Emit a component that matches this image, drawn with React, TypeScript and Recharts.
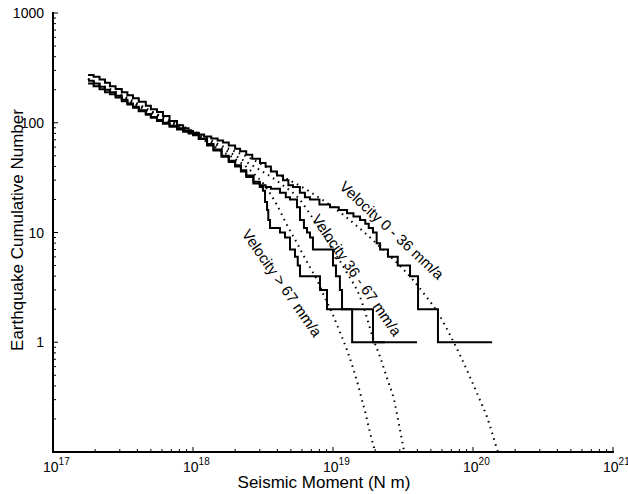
import React from 'react';
import { ComposedChart, Line, XAxis, YAxis, ReferenceDot } from 'recharts';

// observed cumulative counts (stairs), velocity 0 - 36 mm/a
const slowMoment = [
  1.78e17, 1.95e17, 2.15e17, 2.35e17, 2.55e17, 2.8e17, 3.1e17, 3.4e17, 3.73e17, 4.1e17,
  4.6e17, 5.0e17, 5.53e17, 6.1e17, 6.8e17, 7.69e17, 8.5e17, 9.3e17, 1.0e18, 1.1e18,
  1.2e18, 1.35e18, 1.5e18, 1.64e18, 1.8e18, 2.0e18, 2.17e18, 2.4e18, 2.65e18, 3.01e18,
  3.3e18, 3.6e18, 3.98e18, 4.4e18, 4.8e18, 5.18e18, 5.8e18, 6.3e18, 6.85e18, 8.0e18,
  9.52e18, 1.1e19, 1.26e19, 1.4e19, 1.56e19, 1.7e19, 1.8e19, 1.93e19, 2.05e19, 2.17e19,
  2.47e19, 2.9e19, 3.55e19, 4.05e19, 5.62e19, 1.37e20,
];
const slowCount = [
  272, 262, 248, 232, 215, 203, 190, 178, 167, 155,
  143, 133, 125, 115, 104, 95, 89, 84, 81, 78,
  75, 72, 69, 66, 62, 58, 55, 51, 47, 43,
  40, 36, 33, 30, 27, 26, 23, 21, 20, 18,
  17, 16, 15, 14, 13, 12, 11, 10, 8, 7,
  6, 5, 4, 2, 1, 1,
];

// velocity 36 - 67 mm/a
const midMoment = [
  1.78e17, 1.95e17, 2.15e17, 2.35e17, 2.55e17, 2.8e17, 3.1e17, 3.4e17, 3.73e17, 4.1e17,
  4.6e17, 5.0e17, 5.53e17, 6.1e17, 6.8e17, 7.69e17, 8.5e17, 9.3e17, 1.0e18, 1.1e18,
  1.26e18, 1.4e18, 1.6e18, 1.8e18, 2.0e18, 2.2e18, 2.4e18, 2.7e18, 3.0e18, 3.3e18,
  3.6e18, 4.18e18, 4.6e18, 4.93e18, 5.53e18, 5.81e18, 6.2e18, 6.52e18, 6.85e18, 7.19e18,
  1.0e19, 1.05e19, 1.12e19, 1.16e19, 1.93e19, 3.98e19,
];
const midCount = [
  242, 228, 213, 200, 190, 176, 162, 150, 140, 130,
  120, 113, 106, 100, 94, 89, 85, 82, 79, 72,
  64, 57, 50, 45, 41, 37, 33, 29, 27, 26,
  25, 23, 21, 20, 17, 13, 11, 10, 9, 7,
  5, 4, 3, 2, 1, 1,
];

// velocity > 67 mm/a
const fastMoment = [
  1.78e17, 1.95e17, 2.15e17, 2.35e17, 2.55e17, 2.8e17, 3.1e17, 3.4e17, 3.73e17, 4.1e17,
  4.6e17, 5.0e17, 5.53e17, 6.1e17, 6.8e17, 7.69e17, 8.5e17, 9.3e17, 1.0e18, 1.1e18,
  1.26e18, 1.4e18, 1.6e18, 1.8e18, 2.0e18, 2.2e18, 2.4e18, 2.7e18, 3.0e18, 3.16e18,
  3.27e18, 3.38e18, 3.45e18, 3.55e18, 4.18e18, 4.54e18, 4.93e18, 5.35e18, 5.6e18, 5.81e18,
  8.07e18, 9.06e18, 1.37e19, 2.35e19,
];
const fastCount = [
  228, 215, 202, 190, 182, 170, 157, 147, 137, 127,
  118, 111, 104, 98, 92, 87, 83, 80, 77, 71,
  62, 56, 49, 44, 40, 36, 32, 28, 26, 24,
  19, 16, 13, 11, 10, 9, 7, 6, 5, 4,
  3, 2, 1, 1,
];

// fitted curves (dotted)
const slowFitMoment = [
  1.78e17, 3.01e17, 5.53e17, 1.0e18, 1.56e18, 2.55e18, 4.18e18, 6.52e18, 9.52e18, 1.26e19,
  1.69e19, 2.17e19, 2.86e19, 3.73e19, 4.54e19, 5.62e19, 6.96e19, 8.07e19, 9.52e19, 1.12e20,
  1.26e20, 1.39e20, 1.51e20, 1.56e20,
];
const slowFitCount = [
  250, 183, 120, 84, 62.7, 47.7, 33.4, 24.4, 17.8, 13.6,
  9.9, 7.4, 5.3, 3.69, 2.7, 1.85, 1.12, 0.766, 0.482, 0.298,
  0.208, 0.14, 0.1, 0.0915,
];
const midFitMoment = [
  1.78e17, 5.53e17, 1.0e18, 1.56e18, 2.55e18, 4.18e18, 5.81e18, 7.44e18, 1.0e19, 1.26e19,
  1.56e19, 1.75e19, 1.93e19, 2.17e19, 2.43e19, 2.73e19, 3.01e19, 3.21e19, 3.32e19,
];
const midFitCount = [
  250, 118, 82, 60, 42, 28.2, 19.8, 12.5, 6.93, 4.28,
  2.58, 1.66, 1.09, 0.734, 0.472, 0.298, 0.159, 0.104, 0.0845,
];
const fastFitMoment = [
  1.78e17, 5.53e17, 1.0e18, 1.56e18, 2.55e18, 3.27e18, 3.98e18, 4.69e18, 5.53e18, 6.52e18,
  7.69e18, 8.77e18, 9.84e18, 1.12e19, 1.26e19, 1.39e19, 1.51e19, 1.61e19, 1.72e19, 1.84e19,
  2.0e19, 2.06e19,
];
const fastFitCount = [
  250, 115, 79, 56.5, 37.1, 26.5, 17.8, 11.7, 8.02, 5.38,
  3.69, 2.53, 1.85, 1.24, 0.846, 0.582, 0.408, 0.298, 0.217, 0.149,
  0.1, 0.0845,
];

const curveLabels = ['Velocity 0 - 36 mm/a', 'Velocity 36 - 67 mm/a', 'Velocity > 67 mm/a'];
const labelMoment = [2.64e19, 1.48e19, 4.33e18];
const labelCount = [10.5, 4.1, 3.47];
const labelAngle = [43, 55, 55];

const xExponents = ['17', '18', '19', '20', '21'];
const yTickLabels = ['1', '10', '100', '1000'];

const FONT = '"Liberation Sans", Arial, Helvetica, sans-serif';

const zip = (ms: number[], ns: number[]) => ms.map((m, i) => ({ m, n: ns[i] }));

const xTicks: number[] = [];
for (let e = 17; e < 21; e++) for (let k = 1; k < 10; k++) xTicks.push(k * Math.pow(10, e));
xTicks.push(1e21);
const yTicks: number[] = [];
for (let e = -1; e < 3; e++) for (let k = 1; k < 10; k++) yTicks.push(k * Math.pow(10, e));
yTicks.push(1000);

const isMajor = (v: number) => {
  const l = Math.log10(v);
  return Math.abs(l - Math.round(l)) < 1e-6;
};

const BottomTick = (props: any) => {
  const { x, y, payload } = props;
  const major = isMajor(payload.value);
  const exp = Math.round(Math.log10(payload.value));
  return (
    <g>
      <line x1={x} x2={x} y1={y} y2={y - (major ? 5 : 3)} stroke="#000" />
      {major && (
        <text x={x - 10} y={y + 20} fontSize={14} fontFamily={FONT} fill="#000">
          10
          <tspan dy={-7} fontSize={10}>{xExponents[exp - 17]}</tspan>
        </text>
      )}
    </g>
  );
};

const TopTick = (props: any) => {
  const { x, y, payload } = props;
  const major = isMajor(payload.value);
  return <line x1={x} x2={x} y1={y} y2={y + (major ? 5 : 3)} stroke="#000" />;
};

const LeftTick = (props: any) => {
  const { x, y, payload } = props;
  const major = isMajor(payload.value);
  const exp = Math.round(Math.log10(payload.value));
  return (
    <g>
      <line x1={x} x2={x + (major ? 5 : 3)} y1={y} y2={y} stroke="#000" />
      {major && exp >= 0 && (
        <text x={x - 9} y={y + 5} fontSize={14} fontFamily={FONT} textAnchor="end" fill="#000">
          {yTickLabels[exp]}
        </text>
      )}
    </g>
  );
};

const RightTick = (props: any) => {
  const { x, y, payload } = props;
  const major = isMajor(payload.value);
  return <line x1={x} x2={x - (major ? 5 : 3)} y1={y} y2={y} stroke="#000" />;
};

const axisLine = { stroke: '#000', strokeWidth: 2, strokeLinecap: 'square' as const };

const App = () => {
  const stairs = [zip(slowMoment, slowCount), zip(midMoment, midCount), zip(fastMoment, fastCount)];
  const fits = [
    zip(slowFitMoment, slowFitCount),
    zip(midFitMoment, midFitCount),
    zip(fastFitMoment, fastFitCount),
  ];

  return (
    <div style={{ width: 628, height: 494, background: '#fff' }}>
      <style>{'body{margin:0;background:#fff}'}</style>
      <ComposedChart width={628} height={494} margin={{ top: 13, right: 15, bottom: 0, left: 0 }}>
        <XAxis
          xAxisId={0}
          dataKey="m"
          type="number"
          scale="log"
          domain={[1e17, 1e21]}
          allowDataOverflow
          ticks={xTicks}
          interval={0}
          tickSize={0}
          tickMargin={0}
          tickLine={false}
          axisLine={axisLine}
          tick={<BottomTick />}
          height={42}
          label={(p: any) => (
            <text x={324} y={488} textAnchor="middle" fontSize={17} fontFamily={FONT} fill="#000">
              Seismic Moment (N m)
            </text>
          )}
        />
        <XAxis
          xAxisId="top"
          orientation="top"
          dataKey="m"
          type="number"
          scale="log"
          domain={[1e17, 1e21]}
          allowDataOverflow
          ticks={xTicks}
          interval={0}
          tickSize={0}
          tickMargin={0}
          tickLine={false}
          axisLine={axisLine}
          tick={<TopTick />}
          height={0}
        />
        <YAxis
          yAxisId={0}
          dataKey="n"
          type="number"
          scale="log"
          domain={[0.1, 1000]}
          allowDataOverflow
          ticks={yTicks}
          interval={0}
          tickSize={0}
          tickMargin={0}
          tickLine={false}
          axisLine={axisLine}
          tick={<LeftTick />}
          width={53}
          label={(p: any) => (
            <text
              x={23}
              y={230}
              transform="rotate(-90, 23, 230)"
              textAnchor="middle"
              fontSize={17}
              fontFamily={FONT}
              fill="#000"
            >
              Earthquake Cumulative Number
            </text>
          )}
        />
        <YAxis
          yAxisId="right"
          orientation="right"
          dataKey="n"
          type="number"
          scale="log"
          domain={[0.1, 1000]}
          allowDataOverflow
          ticks={yTicks}
          interval={0}
          tickSize={0}
          tickMargin={0}
          tickLine={false}
          axisLine={axisLine}
          tick={<RightTick />}
          width={0}
        />
        {fits.map((d, i) => (
          <Line
            key={'fit' + i}
            data={d}
            dataKey="n"
            type="monotone"
            stroke="#000"
            strokeWidth={2}
            strokeDasharray="1.5 4.5"
            dot={false}
            isAnimationActive={false}
          />
        ))}
        {stairs.map((d, i) => (
          <Line
            key={'obs' + i}
            data={d}
            dataKey="n"
            type="stepAfter"
            stroke="#000"
            strokeWidth={2}
            dot={false}
            isAnimationActive={false}
          />
        ))}
        {curveLabels.map((t, i) => (
          <ReferenceDot
            key={'lab' + i}
            x={labelMoment[i]}
            y={labelCount[i]}
            r={0}
            shape={(p: any) => (
              <text
                x={p.cx}
                y={p.cy}
                transform={`rotate(${labelAngle[i]}, ${p.cx}, ${p.cy})`}
                textAnchor="middle"
                dominantBaseline="central"
                fontSize={15}
                fontFamily={FONT}
                fill="#000"
              >
                {t}
              </text>
            )}
          />
        ))}
      </ComposedChart>
    </div>
  );
};

export default App;
